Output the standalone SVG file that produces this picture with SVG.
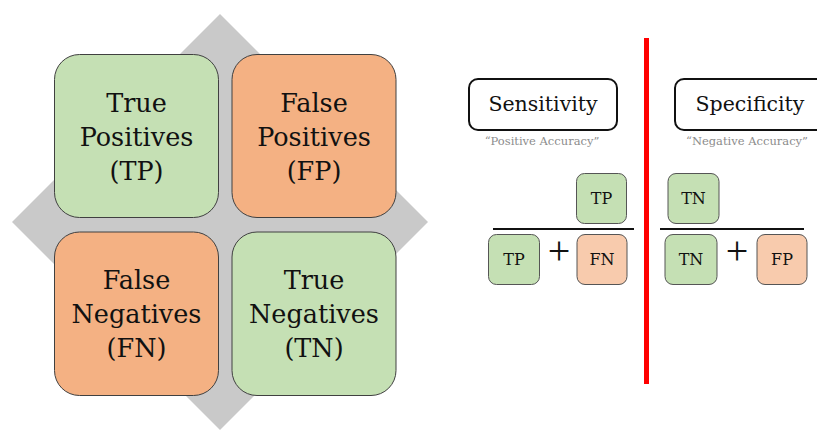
<svg xmlns="http://www.w3.org/2000/svg" width="817" height="430" viewBox="0 0 817 430">
<style>
.big{font-family:"DejaVu Serif","Liberation Serif",serif;font-size:25.5px;fill:#111;text-anchor:middle}
.sm{font-family:"DejaVu Serif","Liberation Serif",serif;font-size:16px;fill:#111;text-anchor:middle}
.hd{font-family:"DejaVu Serif","Liberation Serif",serif;font-size:20.5px;fill:#111;text-anchor:middle}
.sub{font-family:"DejaVu Serif","Liberation Serif",serif;font-size:11.5px;fill:#8c8c8c;text-anchor:middle}
.plus{font-family:"Liberation Serif","Times New Roman",serif;font-size:40px;fill:#111;text-anchor:middle}
.g{fill:#c5e0b4;stroke:#404040;stroke-width:1}
.o{fill:#f4b183;stroke:#404040;stroke-width:1}
.ol{fill:#f8cbad;stroke:#555;stroke-width:1}
.gs{fill:#c5e0b4;stroke:#555;stroke-width:1}
.hb{fill:#fff;stroke:#111;stroke-width:2}
</style>
<rect width="817" height="430" fill="#fff"/>
<polygon points="220,14 428,222 220,430 12,222" fill="#c9c9c9"/>
<g id="tp"><rect class="g" x="54.5" y="54.5" width="164" height="163" rx="25"/>
<text class="big" x="136.5" y="112">True</text><text class="big" x="136.5" y="146">Positives</text><text class="big" x="136.5" y="180">(TP)</text></g>
<g id="fp"><rect class="o" x="232" y="54.5" width="164" height="163" rx="25"/>
<text class="big" x="314" y="112">False</text><text class="big" x="314" y="146">Positives</text><text class="big" x="314" y="180">(FP)</text></g>
<g id="fn"><rect class="o" x="54.5" y="232" width="164" height="163.5" rx="25"/>
<text class="big" x="136.5" y="289">False</text><text class="big" x="136.5" y="323">Negatives</text><text class="big" x="136.5" y="357">(FN)</text></g>
<g id="tn"><rect class="g" x="232" y="232" width="164" height="163.5" rx="25"/>
<text class="big" x="314" y="289">True</text><text class="big" x="314" y="323">Negatives</text><text class="big" x="314" y="357">(TN)</text></g>
<rect x="644" y="38" width="5" height="346" fill="#ff0000"/>
<g id="sensitivity"><rect class="hb" x="469" y="79" width="148" height="51" rx="9"/>
<text class="hd" x="543" y="111">Sensitivity</text>
<text class="sub" x="542" y="145">“Positive Accuracy”</text></g>
<g id="specificity"><rect class="hb" x="675" y="79" width="150" height="51" rx="9"/>
<text class="hd" x="750" y="111">Specificity</text>
<text class="sub" x="747" y="145">“Negative Accuracy”</text></g>
<g id="sens-formula">
<rect class="gs" x="576.5" y="173.5" width="50" height="50" rx="8"/><text class="sm" x="601.5" y="204">TP</text>
<line x1="493" y1="229" x2="634" y2="229" stroke="#111" stroke-width="2"/>
<rect class="gs" x="488.5" y="234.5" width="51" height="50" rx="8"/><text class="sm" x="514" y="265">TP</text>
<text class="plus" x="559" y="264">+</text>
<rect class="ol" x="577" y="234.5" width="50" height="50" rx="8"/><text class="sm" x="602" y="265">FN</text>
</g>
<g id="spec-formula">
<rect class="gs" x="668" y="173.5" width="51" height="50" rx="8"/><text class="sm" x="693.5" y="204">TN</text>
<line x1="660" y1="229" x2="804" y2="229" stroke="#111" stroke-width="2"/>
<rect class="gs" x="665" y="234.5" width="52" height="50" rx="8"/><text class="sm" x="691" y="265">TN</text>
<text class="plus" x="737" y="264">+</text>
<rect class="ol" x="757" y="234.5" width="50" height="50" rx="8"/><text class="sm" x="782" y="265">FP</text>
</g>
</svg>
